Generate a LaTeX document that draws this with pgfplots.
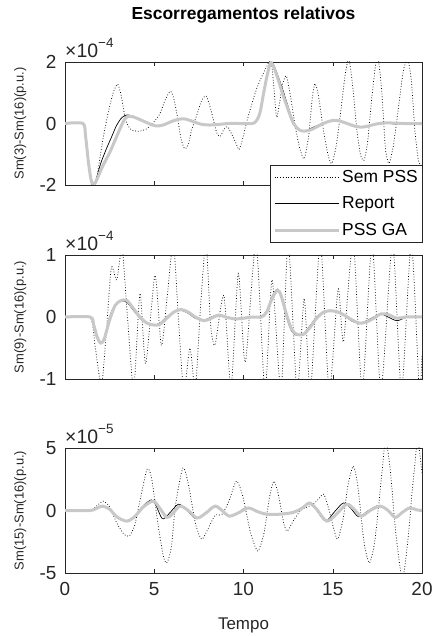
\documentclass[border=0pt]{standalone}
\usepackage{fontspec}
\setmainfont{Liberation Sans}
\usepackage{pgfplots}
\pgfplotsset{compat=1.18}
\definecolor{axgray}{RGB}{38,38,38}
\definecolor{gagray}{RGB}{200,200,200}
\pgfplotsset{
  mstyle/.style={
    scale only axis, width=357bp, xmin=0, xmax=20, xtick={0,5,10,15,20},
    tick align=inside, major tick length=4bp,
    axis line style={axgray, line width=0.6bp}, tick style={axgray, line width=0.5bp},
    ticklabel style={font=\fontsize{19}{21}\selectfont, text=axgray},
    yticklabel style={xshift=-5bp},
    xticklabel style={yshift=-6bp},
    ylabel style={font=\fontsize{13}{15}\selectfont, text=axgray, at={(rel axis cs:-0.125,0.5)}, anchor=center},
    clip mode=individual,
  },
  semstyle/.style={black, dotted, line width=0.75bp, smooth, tension=0.4},
  repstyle/.style={black, line width=0.7bp, smooth, tension=0.5},
  gastyle/.style={gagray, line width=3bp, smooth, tension=0.5},
}
\newcommand{\expo}[1]{\fontsize{19.5}{21}\selectfont ×10\raisebox{0.55em}{\fontsize{13.5}{15}\selectfont #1}}
\begin{document}
\begin{tikzpicture}
% ---------------- TOP ----------------
\begin{axis}[mstyle, at={(65bp,451bp)}, anchor=south west, height=123bp,
  ymin=-2, ymax=2, ytick={-2,0,2}, yticklabels={-2,0,2}, xticklabels={},
  ylabel={Sm(3)-Sm(16)(p.u.)},
  title={Escorregamentos relativos},
  title style={font=\bfseries\fontsize{17.5}{20}\selectfont, at={(rel axis cs:0.5,1)}, anchor=center, yshift=41bp},
  legend style={at={(rel axis cs:1.003,0.163)}, anchor=north east, draw=axgray, fill=white,
    font=\fontsize{17.5}{20}\selectfont, inner xsep=3bp, inner ysep=3bp, row sep=9bp,
    line width=0.6bp},
  legend cell align=left,
  legend image code/.code={\draw[#1] (0bp,0bp) -- (64bp,0bp);},
]
\addplot[semstyle] coordinates {
(0,0)(1.0,0)(1.15,-0.4)(1.3,-1.2)(1.45,-1.9)(1.6,-2.2)(1.8,-1.7)(2.1,-0.6)(2.4,0.3)(2.7,1.0)(2.95,1.28)(3.15,0.9)(3.4,0.1)(3.7,-0.2)(4.1,-0.25)(4.5,-0.2)(4.9,0.0)(5.3,0.3)(5.6,0.75)(5.9,1.05)(6.1,0.8)(6.3,0.2)(6.5,-0.5)(6.7,-0.82)(6.9,-0.7)(7.1,-0.2)(7.4,0.3)(7.65,0.75)(7.9,0.9)(8.1,0.6)(8.3,0.15)(8.5,-0.3)(8.7,-0.42)(8.9,-0.2)(9.1,-0.1)(9.3,-0.3)(9.55,-0.6)(9.75,-0.85)(9.95,-0.5)(10.2,0.1)(10.5,0.7)(10.75,1.15)(11.0,1.5)(11.3,1.85)(11.55,2.05)(11.7,1.2)(11.85,0.2)(12.0,0.6)(12.2,1.3)(12.4,1.55)(12.6,1.0)(12.9,-0.1)(13.15,-0.8)(13.4,-1.15)(13.65,-0.4)(13.85,0.8)(14.0,1.3)(14.2,0.9)(14.5,-0.3)(14.75,-1.05)(14.95,-1.3)(15.2,-0.7)(15.45,0.4)(15.7,1.6)(15.9,2.1)(16.1,1.3)(16.35,-0.2)(16.55,-1.0)(16.75,-1.2)(16.95,-0.6)(17.2,0.9)(17.4,1.9)(17.55,2.1)(17.75,1.0)(17.95,-0.8)(18.15,-1.3)(18.4,-0.7)(18.7,0.6)(18.95,1.7)(19.2,2.1)(19.4,1.4)(19.6,-0.2)(19.8,-1.2)(20,-1.4)
};
\addlegendentry{Sem PSS}
\addplot[repstyle] coordinates {
(0,0)(1.0,0)(1.15,-0.4)(1.3,-1.2)(1.45,-1.8)(1.6,-2.05)(1.75,-1.8)(2.0,-1.3)(2.3,-0.85)(2.6,-0.45)(2.9,-0.05)(3.2,0.2)(3.5,0.28)(3.9,0.22)(4.3,0.12)(4.7,0.02)(5.1,-0.07)(5.5,-0.05)(5.9,0.04)(6.3,0.12)(6.7,0.14)(7.1,0.08)(7.6,-0.02)(8.1,-0.05)(8.6,-0.04)(9.2,0)(10,0)(10.6,0.02)(10.9,0.3)(11.1,0.9)(11.3,1.5)(11.5,1.95)(11.65,1.95)(11.9,1.6)(12.2,1.1)(12.5,0.55)(12.8,0.05)(13.1,-0.18)(13.4,-0.25)(13.8,-0.15)(14.2,-0.05)(14.6,0.05)(15.0,0.1)(15.4,0.07)(15.8,-0.01)(16.2,-0.1)(16.6,-0.12)(17,-0.07)(17.5,0)(18,0.02)(18.5,-0.02)(19,0)(20,0)
};
\addlegendentry{Report}
\addplot[gastyle] coordinates {
(0,0)(1.0,0)(1.15,-0.4)(1.3,-1.2)(1.45,-1.8)(1.6,-2.0)(1.8,-1.8)(2.1,-1.4)(2.5,-0.95)(2.8,-0.55)(3.06,-0.2)(3.3,0.1)(3.5,0.22)(3.8,0.22)(4.3,0.1)(4.7,0.0)(5.1,-0.08)(5.5,-0.05)(5.9,0.05)(6.3,0.13)(6.7,0.15)(7.1,0.08)(7.6,-0.02)(8.1,-0.05)(8.6,-0.03)(9.2,0.0)(10.0,0.0)(10.6,0.02)(10.9,0.3)(11.1,0.9)(11.3,1.5)(11.5,1.95)(11.65,1.9)(11.9,1.5)(12.2,0.95)(12.5,0.45)(12.8,0.0)(13.1,-0.2)(13.4,-0.25)(13.8,-0.2)(14.2,-0.08)(14.6,0.03)(15.0,0.1)(15.4,0.08)(15.8,0.0)(16.2,-0.08)(16.6,-0.12)(17.0,-0.08)(17.5,-0.01)(18.0,0.02)(18.5,0.01)(19,0)(20,0)
};
\addlegendentry{PSS GA}
\node[anchor=south west, inner sep=0pt, text=axgray] at (rel axis cs:0,1.03) {\expo{−4}};
\end{axis}
% ---------------- MIDDLE ----------------
\begin{axis}[mstyle, at={(65bp,257bp)}, anchor=south west, height=124bp,
  ymin=-1, ymax=1, ytick={-1,0,1}, yticklabels={-1,0,1}, xticklabels={},
  ylabel={Sm(9)-Sm(16)(p.u.)},
]
\addplot[semstyle] coordinates {
(0,0)(1.4,0)(1.7,-0.5)(2.05,-1.1)(2.35,-0.1)(2.6,0.8)(2.9,0.6)(3.2,1.1)(3.5,0.0)(3.85,-1.15)(4.2,0.38)(4.52,-0.75)(5.04,0.67)(5.4,-0.46)(5.75,0.4)(6.07,1.2)(6.35,0.0)(6.65,-1.2)(7.0,-0.5)(7.3,-1.15)(7.6,0.2)(7.9,1.2)(8.15,-0.1)(8.4,-0.45)(8.9,0.35)(9.3,-1.15)(9.71,0.7)(10.1,-0.73)(10.7,1.2)(11.2,-1.2)(11.6,0.6)(12.1,-1.2)(12.5,1.2)(13.0,-1.2)(13.4,0.3)(13.75,-1.2)(14.3,1.2)(14.8,-1.2)(15.3,0.45)(15.6,-0.4)(16.15,1.2)(16.65,-1.2)(17.2,1.2)(17.7,-1.2)(18.35,1.2)(18.85,-1.2)(19.4,1.2)(19.85,-1.2)(20,-0.6)
};
\addplot[repstyle] coordinates {
(0,0)(1.4,0)(1.6,-0.15)(1.8,-0.35)(2.0,-0.43)(2.2,-0.33)(2.5,0.0)(2.8,0.2)(3.1,0.26)(3.45,0.24)(3.8,0.12)(4.2,-0.02)(4.6,-0.11)(5.0,-0.13)(5.3,-0.1)(5.7,0.0)(6.1,0.09)(6.5,0.11)(6.9,0.06)(7.3,-0.02)(7.8,-0.05)(8.2,0.0)(8.6,0.04)(9.0,0.01)(9.5,-0.03)(10.0,-0.01)(10.5,0.0)(11.0,0.01)(11.3,0.1)(11.6,0.33)(11.9,0.45)(12.1,0.33)(12.4,0.0)(12.7,-0.23)(13.0,-0.3)(13.35,-0.27)(13.7,-0.15)(14.1,0.0)(14.5,0.09)(14.9,0.11)(15.3,0.08)(15.7,0.01)(16.1,-0.07)(16.5,-0.1)(16.9,-0.06)(17.3,0.0)(17.7,0.05)(18.1,0.0)(18.6,-0.06)(19.1,-0.01)(20,0.0)
};
\addplot[gastyle] coordinates {
(0,0)(1.4,0)(1.6,-0.12)(1.8,-0.32)(2.0,-0.42)(2.2,-0.35)(2.5,-0.05)(2.8,0.18)(3.1,0.26)(3.45,0.27)(3.8,0.15)(4.2,0.0)(4.6,-0.1)(5.0,-0.13)(5.3,-0.12)(5.7,-0.02)(6.1,0.08)(6.5,0.12)(6.9,0.08)(7.3,0.0)(7.8,-0.06)(8.2,-0.02)(8.6,0.03)(9.0,0.0)(9.5,-0.03)(10.0,-0.02)(10.5,0.0)(11.0,0.0)(11.3,0.08)(11.6,0.3)(11.9,0.43)(12.1,0.35)(12.4,0.05)(12.7,-0.2)(13.0,-0.28)(13.35,-0.28)(13.7,-0.18)(14.1,-0.02)(14.5,0.08)(14.9,0.1)(15.3,0.08)(15.7,0.02)(16.1,-0.05)(16.5,-0.1)(16.9,-0.08)(17.3,-0.02)(17.7,0.05)(18.1,0.04)(18.6,-0.02)(19.1,0.0)(20,0.0)
};
\node[anchor=south west, inner sep=0pt, text=axgray] at (rel axis cs:0,1.03) {\expo{−4}};
\end{axis}
% ---------------- BOTTOM ----------------
\begin{axis}[mstyle, at={(65bp,63bp)}, anchor=south west, height=125bp,
  ymin=-5, ymax=5, ytick={-5,0,5}, yticklabels={-5,0,5}, xticklabels={0,5,10,15,20},
  ylabel={Sm(15)-Sm(16)(p.u.)},
  xlabel={Tempo},
  xlabel style={font=\fontsize{17}{19}\selectfont, text=axgray, yshift=-15bp},
]
\addplot[semstyle] coordinates {
(0,0)(1.4,0)(1.8,0.4)(2.15,0.75)(2.5,0.3)(2.9,-1.0)(3.3,-1.9)(3.6,-2.05)(3.9,-1.2)(4.2,0.8)(4.6,3.3)(4.85,2.6)(5.2,-1.0)(5.5,-3.6)(5.7,-4.2)(5.95,-3.0)(6.2,0.5)(6.6,3.4)(6.9,2.2)(7.3,-1.0)(7.65,-2.3)(8.0,-1.5)(8.4,-0.4)(8.8,-0.3)(9.2,0.8)(9.6,2.35)(9.95,1.2)(10.4,-1.8)(10.8,-3.25)(11.15,-1.8)(11.45,1.0)(11.7,2.35)(11.95,1.3)(12.25,-1.0)(12.45,-1.65)(12.8,-0.8)(13.2,0.0)(13.6,0.3)(13.9,0.5)(14.2,0.9)(14.5,1.3)(14.8,0.0)(15.25,-2.3)(15.6,-0.5)(15.85,2.0)(16.15,3.55)(16.4,2.0)(16.75,-2.5)(17.05,-4.2)(17.35,-2.5)(17.65,1.5)(17.95,5.5)(18.2,3.5)(18.55,-2.0)(18.9,-5.5)(19.2,-2.5)(19.45,1.5)(19.75,5.5)(20,3.0)
};
\addplot[repstyle] coordinates {
(0,0)(1.4,0)(1.8,0.2)(2.1,0.35)(2.5,0.1)(2.9,-0.5)(3.45,-0.85)(3.9,-0.45)(4.4,0.4)(4.85,0.85)(5.1,0.4)(5.45,-0.65)(5.8,-0.3)(6.35,0.5)(6.8,0.05)(7.35,-0.65)(7.9,-0.15)(8.35,0.35)(8.8,-0.05)(9.25,-0.45)(9.7,-0.15)(10.2,0.25)(10.8,-0.05)(11.3,-0.35)(12.0,-0.3)(12.8,-0.1)(13.3,0.25)(13.7,0.55)(14.1,0.0)(14.6,-0.85)(15.1,-0.1)(15.6,0.6)(16.0,0.2)(16.45,-0.5)(17.0,0.0)(17.6,0.4)(18.1,-0.05)(18.5,-0.5)(18.9,-0.1)(19.3,0.15)(20,0)
};
\addplot[gastyle] coordinates {
(0,0)(1.4,0)(1.8,0.2)(2.1,0.35)(2.5,0.1)(2.9,-0.5)(3.45,-0.85)(3.9,-0.5)(4.4,0.3)(4.95,0.75)(5.3,0.2)(5.7,-0.55)(6.0,-0.3)(6.44,0.35)(6.9,0.0)(7.4,-0.6)(7.9,-0.2)(8.4,0.35)(8.8,0.0)(9.2,-0.45)(9.7,-0.2)(10.27,0.2)(10.8,-0.1)(11.3,-0.3)(12.0,-0.3)(12.8,-0.15)(13.3,0.2)(13.7,0.6)(14.1,0.1)(14.66,-0.85)(15.2,-0.3)(15.78,0.5)(16.2,0.1)(16.6,-0.45)(17.1,0.0)(17.65,0.35)(18.1,0.0)(18.5,-0.55)(18.9,-0.15)(19.3,0.2)(19.7,0.05)(20,0.0)
};
\node[anchor=south west, inner sep=0pt, text=axgray] at (rel axis cs:0,1.03) {\expo{−5}};
\end{axis}
\pgfresetboundingbox
\path[use as bounding box] (0bp,0bp) rectangle (435bp,636bp);
\end{tikzpicture}
\end{document}
